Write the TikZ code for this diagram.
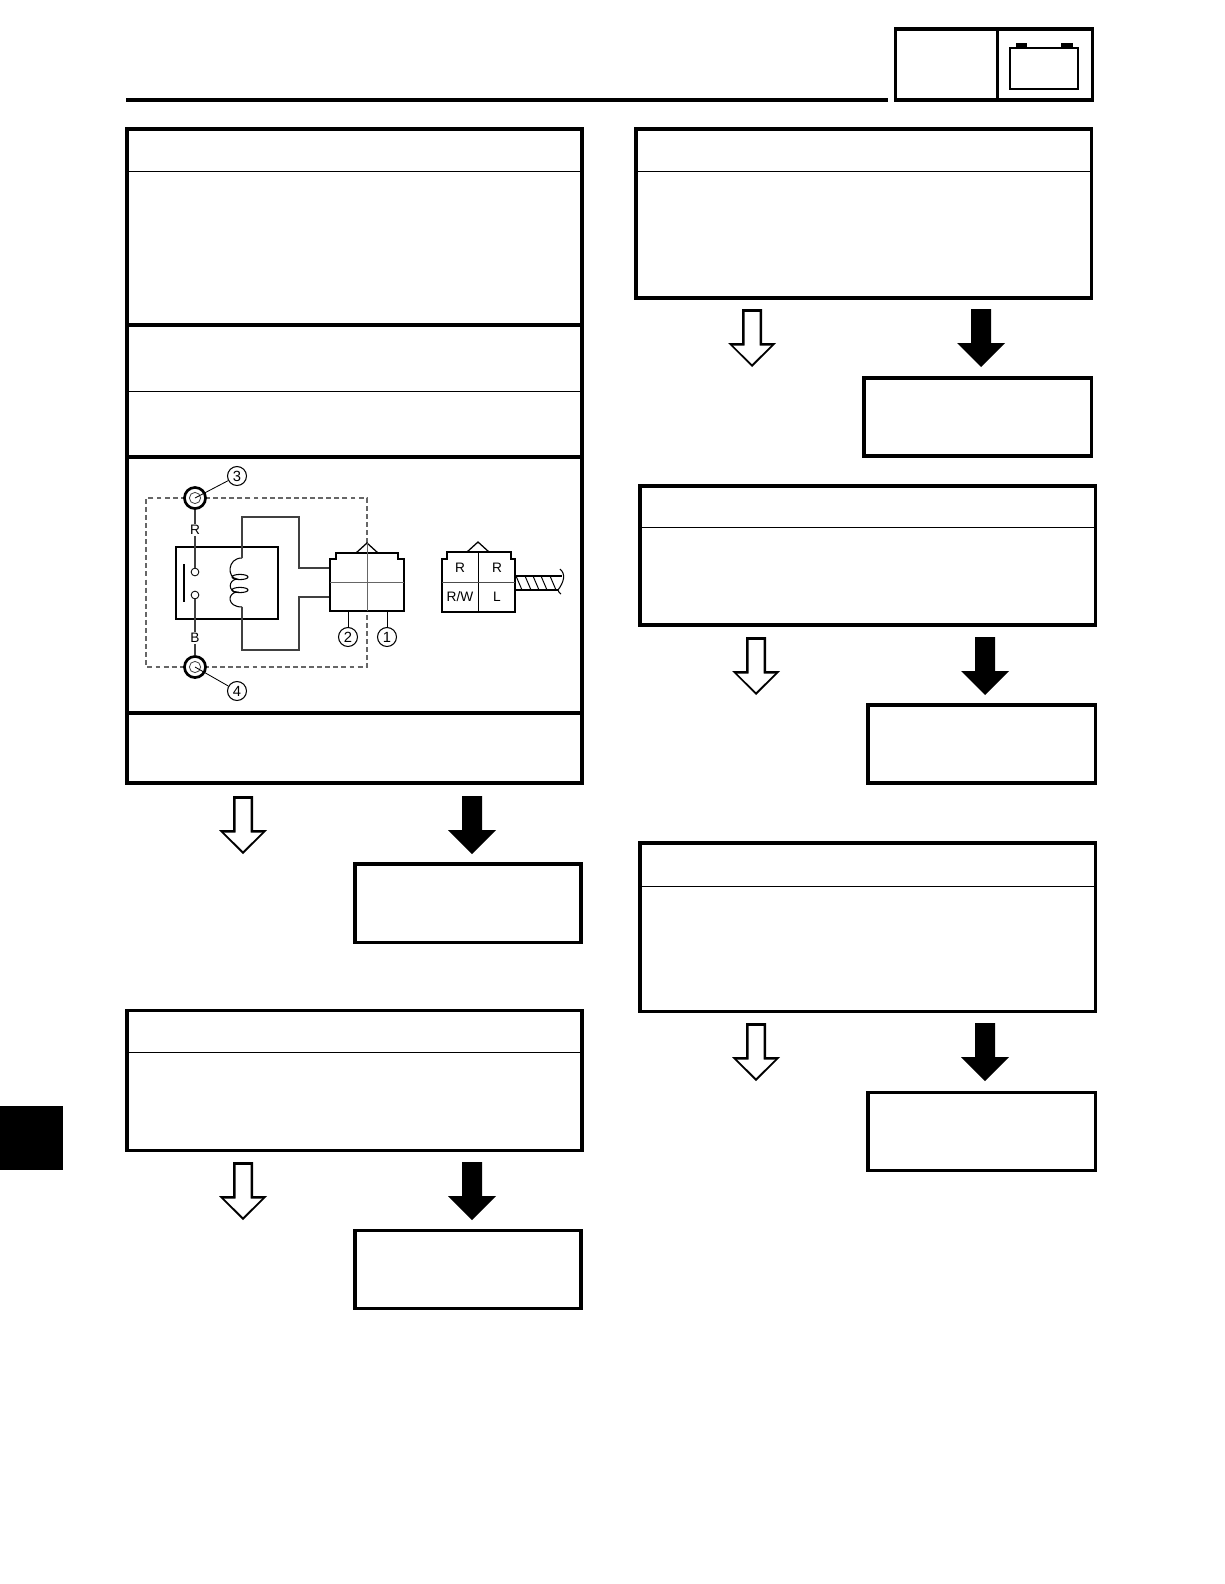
\documentclass[tikz,border=0pt]{standalone}
\usepackage{fontspec}
\setmainfont{Liberation Sans}
\usetikzlibrary{calc}

\tikzset{
  heavy/.style={line width=4.3pt, line join=miter},
  thin rule/.style={line width=1.2pt},
  wire/.style={line width=1.9pt, black!75},
  callout/.style={circle, draw, line width=1.5pt, inner sep=0pt, minimum size=27pt, font=\fontsize{21}{21}\selectfont},
  colour/.style={inner sep=0pt, font=\fontsize{19.5}{20}\selectfont},
  terminal/.style={circle, draw, line width=3.8pt, fill=white, inner sep=0pt, minimum size=30pt},
  contact/.style={circle, draw, line width=1.2pt, inner sep=0pt, minimum size=11pt},
  eye/.style={circle, draw, line width=1.2pt, black!70, inner sep=0pt, minimum size=16pt},
}

\begin{document}
\begin{tikzpicture}[x=0.05cm, y=-0.05cm]
  \useasboundingbox (0,0) rectangle (1224,1584);

  % header
  \draw[heavy] (126,100) -- (888,100);
  \draw[heavy] (895,29) rectangle (1092,100);
  \draw[heavy] (997,29) -- (997,100);
  \draw[line width=3pt] (1010,48) rectangle (1078,89);
  \fill (1016,43) rectangle (1027,48);
  \fill (1061,43) rectangle (1073,48);
  \fill (0,1106) rectangle (63,1170);

  % large boxes: left, right, top, first rule, bottom
  \foreach \xl/\xr/\yt/\ym/\yb in {127/582/129/171/783, 127/582/1010/1052/1150,
      636/1091/129/171/298, 640/1095/486/527/625, 640/1095/843/886/1011} {
    \draw[heavy] (\xl,\yt) rectangle (\xr,\yb);
    \draw[thin rule] (\xl,\ym) -- (\xr,\ym);
  }
  \draw[heavy] (127,325) -- (582,325);
  \draw[thin rule] (127,391) -- (582,391);
  \draw[heavy] (127,457) -- (582,457);
  \draw[heavy] (127,713) -- (582,713);

  % small boxes
  \foreach \xl/\xr/\yt/\yb in {355/581/864/942, 355/581/1230/1308,
      864/1091/378/456, 868/1095/705/783, 868/1095/1092/1170} {
    \draw[heavy] (\xl,\yt) rectangle (\xr,\yb);
  }

  % yes and no arrows
  \foreach \ax/\ay/\col in {243/796/white, 472/796/black, 243/1162/white, 472/1162/black,
      752/309/white, 981/309/black, 756/637/white, 985/637/black,
      756/1023/white, 985/1023/black} {
    \fill (\ax-10,\ay) -- (\ax+10,\ay) -- (\ax+10,\ay+34) -- (\ax+24,\ay+34)
      -- (\ax,\ay+58) -- (\ax-24,\ay+34) -- (\ax-10,\ay+34) -- cycle;
    \fill[\col] (\ax-7.5,\ay+3) -- (\ax+7.5,\ay+3) -- (\ax+7.5,\ay+36.5) -- (\ax+19,\ay+36.5)
      -- (\ax,\ay+55) -- (\ax-19,\ay+36.5) -- (\ax-7.5,\ay+36.5) -- cycle;
  }

  % relay schematic
  \draw[line width=1.5pt, black!60, dash pattern=on 7pt off 4.5pt]
    (367,543) -- (367,498) -- (146,498) -- (146,667) -- (367,667) -- (367,611);
  \draw[line width=3.2pt] (176,547) rectangle (278,619);
  \draw[line width=1.5pt] (184,564) -- (184,602);
  \node[contact] (contactA) at (195,572) {};
  \node[contact] (contactB) at (195,595) {};
  \node[terminal] (termR) at (195,498) {};
  \node[terminal] (termB) at (195,667) {};
  \node[eye] (eyeR) at (195,498) {};
  \node[eye] (eyeB) at (195,667) {};
  \node[colour, fill=white, inner ysep=1.5pt] (labR) at (195,530) {R};
  \node[colour, fill=white, inner ysep=1.5pt] (labB) at (195,638) {B};
  \draw[wire] (termR) -- (labR);
  \draw[wire] (labR) -- (contactA);
  \draw[wire] (contactB) -- (labB);
  \draw[wire] (labB) -- (termB);

  % coil
  \coordinate (coilT) at (242,558);
  \coordinate (coilB) at (242,607);
  \draw[line width=1.5pt] (coilT) .. controls (227,558) and (227,578) .. (237,579)
    .. controls (228,580) and (228,592) .. (237,592)
    .. controls (227,593) and (227,607) .. (coilB);
  \draw[line width=1.5pt] (240,577) ellipse [x radius=8, y radius=2.6];
  \draw[line width=1.5pt] (240,590) ellipse [x radius=8, y radius=2.6];

  \coordinate (pinA) at (330,568);
  \coordinate (pinB) at (330,597);
  \draw[wire] (coilT) -- (242,517) -- (299,517) -- (299,568) -- (pinA);
  \draw[wire] (coilB) -- (242,650) -- (299,650) -- (299,597) -- (pinB);

  % relay connector
  \draw[line width=3pt, line join=miter] (330,611) -- (330,559) -- (336,559) -- (336,553)
    -- (398,553) -- (398,559) -- (404,559) -- (404,611) -- cycle;
  \draw[line width=1.8pt] (356,553) -- (367,543) -- (378,553);
  \draw[line width=1.2pt, black!60] (367,543) -- (367,611);
  \draw[line width=1.2pt, black!60] (330,582) -- (404,582);

  \node[callout] (num3) at (237,476) {3};
  \node[callout] (num4) at (237,691) {4};
  \node[callout] (num2) at (348,637) {2};
  \node[callout] (num1) at (387,637) {1};
  \draw[line width=1.2pt] (num3) -- (eyeR.center);
  \draw[line width=1.2pt] (num4) -- (eyeB.center);
  \draw[line width=1.2pt] (num2) -- (348,611);
  \draw[line width=1.2pt] (num1) -- (387,611);

  % harness side connector
  \draw[line width=3pt, line join=miter] (442,612) -- (442,559) -- (447,559) -- (447,552)
    -- (511,552) -- (511,559) -- (515,559) -- (515,612) -- cycle;
  \draw[line width=1.8pt] (467,552) -- (478,542) -- (489,552);
  \draw[line width=1.4pt] (478,552) -- (478,612);
  \draw[line width=1.2pt, black!70] (442,582) -- (515,582);
  \node[colour] (pinRa) at (460,568) {R};
  \node[colour] (pinRb) at (497,568) {R};
  \node[colour] (pinRW) at (460,597) {R/W};
  \node[colour] (pinL) at (497,597) {L};

  % cable
  \draw[line width=2.8pt] (515,576) -- (562,576);
  \draw[line width=2.8pt] (515,590) -- (558,590);
  \foreach \hx in {516,525,533,541,550} {
    \draw[line width=1.4pt] (\hx,576) -- (\hx+6,590);
  }
  \draw[line width=1.5pt] (560,569) .. controls (566,574) and (564,582) .. (558,590)
    .. controls (558,592) and (560,593) .. (561,594);
\end{tikzpicture}
\end{document}
